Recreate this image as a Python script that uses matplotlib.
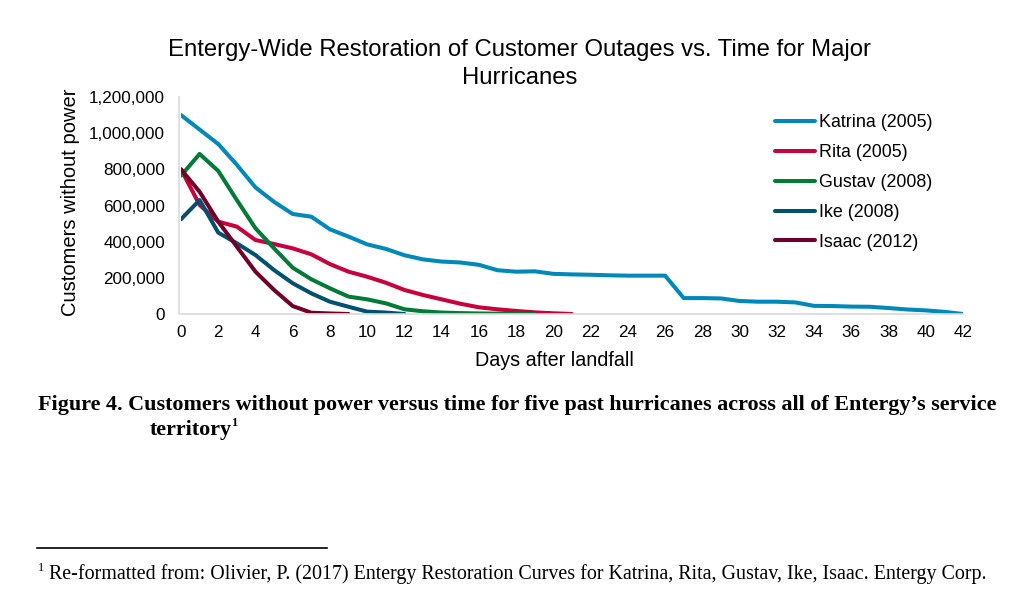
import matplotlib
matplotlib.use("Agg")
import matplotlib.pyplot as plt
from matplotlib.ticker import FuncFormatter
from matplotlib.lines import Line2D

W, H = 1018, 607

series_names = ["Katrina (2005)", "Rita (2005)", "Gustav (2008)", "Ike (2008)", "Isaac (2012)"]
katrina = [1100000, 1020000, 940000, 825000, 700000, 620000, 553000, 538000, 468000, 428000,
           385000, 360000, 325000, 302000, 290000, 285000, 272000, 242000, 234000, 236000,
           222000, 219000, 217000, 214000, 212000, 212000, 212000, 88000, 88000, 86000,
           72000, 68000, 68000, 64000, 45000, 44000, 41000, 40000, 33000, 25000,
           20000, 12000, 0]
rita = [800000, 603000, 511000, 483000, 409000, 387000, 363000, 330000, 276000, 234000,
        206000, 173000, 133000, 105000, 81000, 57000, 37000, 26000, 17000, 9000, 4000, 0]
gustav = [765000, 885000, 791000, 630000, 474000, 363000, 256000, 192000, 142000, 96000,
          81000, 59000, 26000, 15000, 8000, 5000, 3000, 2000, 1000, 0]
ike = [524000, 630000, 450000, 391000, 326000, 243000, 170000, 114000, 68000, 40000,
       13000, 8000, 0]
isaac = [800000, 676000, 511000, 372000, 234000, 133000, 44000, 7000, 3000, 0]
series_values = [katrina, rita, gustav, ike, isaac]
colors = ["#0088BA", "#C8003C", "#007A37", "#00506E", "#700028"]

x_ticks = list(range(0, 43, 2))
y_ticks = [0, 200000, 400000, 600000, 800000, 1000000, 1200000]

plt.rcParams["font.family"] = ["Liberation Sans", "DejaVu Sans"]
SERIF = ["Liberation Serif", "DejaVu Serif"]

fig = plt.figure(figsize=(W / 100, H / 100), dpi=100)

def fx(px):
    return px / W

def fy(py):
    return 1 - py / H

ax = fig.add_axes([fx(181), fy(314), fx(963) - fx(181), fy(97) - fy(314)])
for name, vals, c in zip(series_names, series_values, colors):
    ax.plot(range(len(vals)), vals, color=c, lw=2.9, solid_capstyle="round",
            solid_joinstyle="round", label=name)

ax.set_xlim(0, 42)
ax.set_ylim(0, 1200000)
ax.set_xticks(x_ticks)
ax.set_yticks(y_ticks)
ax.yaxis.set_major_formatter(FuncFormatter(lambda v, p: f"{int(v):,}"))
ax.tick_params(length=0, labelsize=12.3, colors="#000000")
ax.tick_params(axis="y", pad=10)
ax.tick_params(axis="x", pad=8)
for s in ["top", "right"]:
    ax.spines[s].set_visible(False)
for s in ["left", "bottom"]:
    ax.spines[s].set_color("#D9D9D9")
    ax.spines[s].set_linewidth(1.2)
ax.spines["left"].set_position(("outward", 1.5))

fig.text(fx(554), fy(360), "Days after landfall", ha="center", va="center", fontsize=14.2)
fig.text(fx(70), fy(202), "Customers without power", ha="center", va="center",
         rotation=90, fontsize=14.5)

handles = [Line2D([0], [0], color=c, lw=2.9, solid_capstyle="round") for c in colors]
fig.legend(handles, series_names, loc="upper left", bbox_to_anchor=(fx(768), fy(107)),
           frameon=False, fontsize=12.9, handlelength=2.2, handletextpad=0.25,
           labelspacing=0.72, borderaxespad=0)

fig.text(fx(520), fy(50), "Entergy-Wide Restoration of Customer Outages vs. Time for Major",
         ha="center", va="center", fontsize=17.2)
fig.text(fx(520), fy(78), "Hurricanes", ha="center", va="center", fontsize=17.2)

fig.text(fx(517), fy(405),
         "Figure 4. Customers without power versus time for five past hurricanes across all of Entergy\u2019s service",
         ha="center", va="center", fontsize=15.9, fontweight="bold", family=SERIF)
terr = fig.text(fx(150), fy(430), "territory", ha="left", va="center", fontsize=15.9,
                fontweight="bold", family=SERIF)
fig.canvas.draw()
bb = terr.get_window_extent()
fig.text(fx(bb.x1 - 1.5), fy(423), "1", ha="left", va="center", fontsize=9,
         fontweight="bold", family=SERIF)

fig.add_artist(Line2D([fx(37), fx(327)], [fy(548), fy(548)], color="black", lw=1.2))
fig.text(fx(38), fy(568), "1", ha="left", va="center", fontsize=9, family=SERIF)
fig.text(fx(49), fy(574),
         "Re-formatted from: Olivier, P. (2017) Entergy Restoration Curves for Katrina, Rita, Gustav, Ike, Isaac. Entergy Corp.",
         ha="left", va="center", fontsize=14.4, family=SERIF)

fig.savefig("out.png", dpi=100, facecolor="white")
